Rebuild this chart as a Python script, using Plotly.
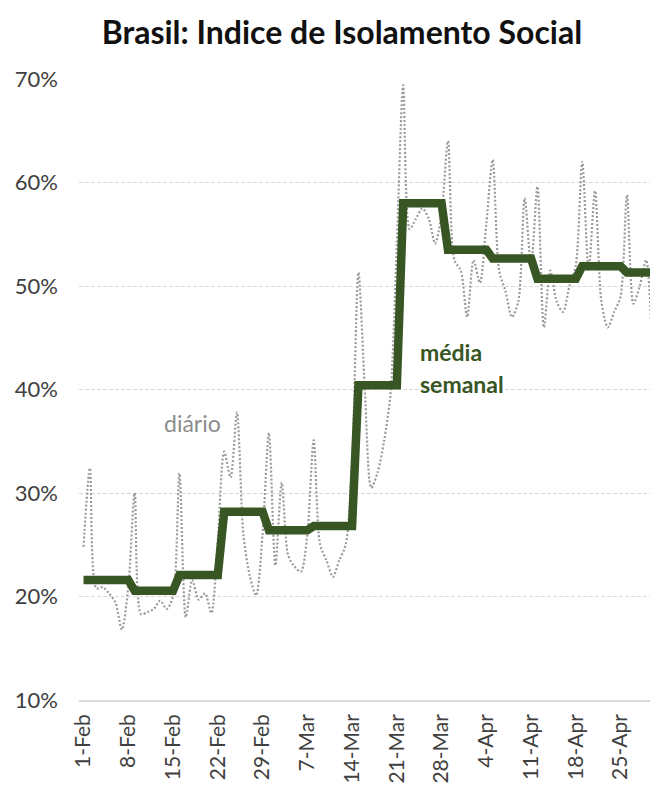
import pandas as pd
import plotly.graph_objects as go

# Daily social-isolation index (%), one value per day starting 1 Feb 2020
start_date = "2020-02-01"
daily_index = [
    24.8, 32.4, 20.8, 20.9, 20.3, 19.4, 16.8, 20.9,
    30.0, 18.3, 18.5, 18.8, 19.6, 18.8, 20.0,
    31.9, 18.0, 21.6, 19.7, 20.3, 18.4, 25.5,
    34.0, 31.5, 37.8, 26.0, 22.0, 20.1, 26.0,
    35.8, 23.0, 31.0, 24.0, 22.9, 22.4, 26.0,
    35.1, 25.0, 23.5, 21.9, 23.5, 25.0, 33.0,
    51.3, 40.0, 30.5, 32.0, 35.0, 39.5, 54.0,
    69.4, 55.5, 56.5, 57.5, 56.5, 54.1, 57.0,
    64.0, 52.5, 51.5, 47.0, 52.5, 50.3, 56.0,
    62.2, 51.5, 49.5, 47.0, 48.5, 58.5, 52.0,
    59.6, 46.0, 51.5, 48.5, 47.5, 50.0, 52.0,
    62.0, 51.5, 59.2, 48.5, 46.0, 47.5, 49.0,
    58.8, 48.3, 50.0, 52.5, 43.0,
]

# Weekly mean (%), each value holds from its start date until the next one
week_starts = [
    "2020-02-01", "2020-02-09", "2020-02-16", "2020-02-23", "2020-03-01",
    "2020-03-08", "2020-03-15", "2020-03-22", "2020-03-29", "2020-04-05",
    "2020-04-12", "2020-04-19", "2020-04-26",
]
weekly_mean = [21.6, 20.55, 22.07, 28.2, 26.4, 26.8, 40.4, 58.0, 53.5, 52.65, 50.7, 51.9, 51.3]

# Axis ticks
x_tick_dates = pd.date_range("2020-02-01", "2020-04-25", freq="7D")
x_tick_labels = ["1-Feb", "8-Feb", "15-Feb", "22-Feb", "29-Feb", "7-Mar", "14-Mar",
                 "21-Mar", "28-Mar", "4-Apr", "11-Apr", "18-Apr", "25-Apr"]
y_ticks = [10, 20, 30, 40, 50, 60, 70]
y_tick_labels = ["10%", "20%", "30%", "40%", "50%", "60%", "70%"]

dates = pd.date_range(start_date, periods=len(daily_index), freq="D")
weekly_series = (
    pd.Series(weekly_mean, index=pd.to_datetime(week_starts))
    .reindex(dates, method="ffill")
)

GREEN = "#375623"
FONT = "Lato"
TICK_COLOR = "#404040"

fig = go.Figure()
fig.add_trace(go.Scatter(
    x=dates, y=daily_index, mode="lines", name="diário",
    line=dict(color="#9a9a9a", width=2.2, dash="2px,2px", shape="spline", smoothing=0.8),
    hoverinfo="skip",
))
fig.add_trace(go.Scatter(
    x=dates, y=weekly_series.values, mode="lines", name="média semanal",
    line=dict(color=GREEN, width=8.5),
    hoverinfo="skip",
))

x_start = dates[0] - pd.Timedelta(hours=17)
x_end = dates[0] + pd.Timedelta(days=88.6)

fig.update_layout(
    width=650, height=789,
    margin=dict(l=79, r=0, t=79, b=89),
    paper_bgcolor="white", plot_bgcolor="white",
    showlegend=False,
    font=dict(family=FONT, color=TICK_COLOR),
    title=dict(
        text="<b>Brasil: Indice de Isolamento Social</b>",
        font=dict(family=FONT, size=32, color="#111111"),
        xref="container", x=0.526, xanchor="center",
        yref="container", y=1 - 33 / 789, yanchor="middle",
    ),
    xaxis=dict(
        type="date", range=[x_start, x_end],
        tickvals=x_tick_dates, ticktext=x_tick_labels,
        tickangle=-90, tickfont=dict(size=21, color=TICK_COLOR),
        showgrid=False, zeroline=False,
        showline=True, linecolor="#d9d9d9", linewidth=1.5,
        ticks="", ticklabelstandoff=4,
    ),
    yaxis=dict(
        range=[10, 70], tickvals=y_ticks, ticktext=y_tick_labels,
        tickfont=dict(size=22, color=TICK_COLOR),
        showgrid=True, gridcolor="#d9d9d9", griddash="4px,2px", gridwidth=1,
        zeroline=False, showline=False, ticks="", ticklabelstandoff=20,
    ),
)

fig.add_annotation(
    x=dates[0] + pd.Timedelta(days=17.1), y=36.8, xref="x", yref="y",
    text="diário", showarrow=False, xanchor="center", yanchor="middle",
    font=dict(family=FONT, size=23, color="#8c8c8c"),
)
fig.add_annotation(
    x=dates[0] + pd.Timedelta(days=52.3), y=43.6, xref="x", yref="y",
    text="<b>média</b>", showarrow=False, xanchor="left", yanchor="middle",
    font=dict(family=FONT, size=23, color=GREEN),
)
fig.add_annotation(
    x=dates[0] + pd.Timedelta(days=52.3), y=40.5, xref="x", yref="y",
    text="<b>semanal</b>", showarrow=False, xanchor="left", yanchor="middle",
    font=dict(family=FONT, size=23, color=GREEN),
)

fig.write_html("out.html")
